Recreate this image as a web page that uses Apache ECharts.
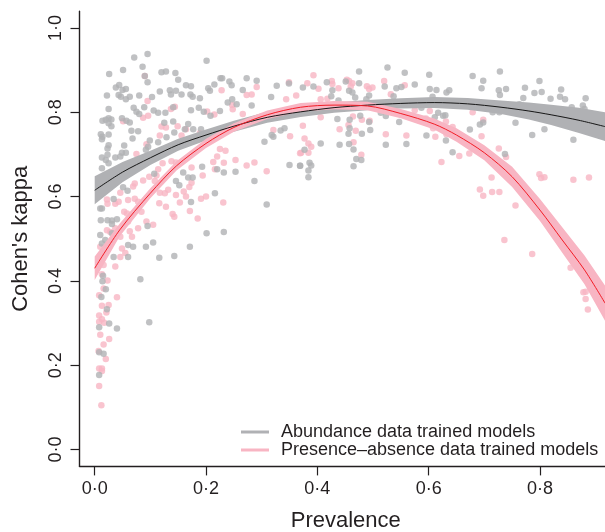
<!DOCTYPE html>
<html>
<head>
<meta charset="utf-8">
<style>html,body{margin:0;padding:0;background:#fff}#c{width:605px;height:532px}</style>
<script src="https://cdn.jsdelivr.net/npm/echarts@6/dist/echarts.min.js"></script>
</head>
<body>
<div id="c"></div>
<script>
const xTicks = [0, 0.2, 0.4, 0.6, 0.8];
const yTicks = [0, 0.2, 0.4, 0.6, 0.8, 1.0];
const nameAbundance = 'Abundance data trained models';
const namePresence = 'Presence–absence data trained models';

const abundancePoints = [
[.095,.938],[.071,.930],[.201,.922],[.026,.891],[.051,.900],[.086,.908],[.090,.886],[.095,.871],[.120,.895],[.128,.897],[.145,.893],[.150,.877],[.164,.864],[.173,.862],[.038,.859],[.044,.865],[.022,.840],[.043,.841],[.050,.853],[.056,.855],[.047,.837],[.056,.831],[.063,.837],[.080,.840],[.103,.836],[.117,.849],[.135,.852],[.146,.851],[.137,.842],[.156,.842],[.172,.842],[.176,.837],[.189,.833],[.204,.857],[.207,.851],[.215,.866],[.226,.881],[.229,.881],[.242,.873],[.246,.864],[.273,.881],[.291,.875],[.266,.853],[.239,.823],[.247,.831],[.255,.819],[.282,.816],[.317,.836],[.327,.863],[.349,.868],
[.025,.808],[.070,.811],[.075,.801],[.080,.796],[.089,.812],[.106,.804],[.114,.799],[.127,.799],[.141,.812],[.173,.805],[.187,.811],[.196,.801],[.208,.792],[.225,.803],[.014,.780],[.020,.782],[.025,.786],[.030,.783],[.025,.774],[.030,.767],[.049,.786],[.057,.780],[.063,.776],[.066,.756],[.078,.755],[.068,.738],[.011,.748],[.014,.742],[.025,.747],[.013,.736],[.025,.722],[.023,.714],[.053,.721],[.099,.733],[.092,.711],[.096,.718],[.125,.775],[.141,.778],[.129,.741],[.143,.752],[.114,.729],[.162,.760],[.168,.772],[.177,.760],[.191,.760],
[.013,.693],[.023,.699],[.037,.693],[.049,.704],[.056,.704],[.046,.695],[.020,.687],[.013,.667],[.025,.679],[.193,.671],[.220,.665],[.232,.657],[.253,.659],[.159,.657],[.176,.645],[.168,.645],[.287,.637],[.146,.637],[.152,.627],[.051,.622],[.059,.614],[.034,.594],[.216,.608],[.173,.587],[.107,.654],[.309,.581],[.305,.730],[.321,.742],[.318,.746],[.334,.757],[.341,.762],[.350,.675],[.369,.673],[.010,.572],[.013,.572],[.011,.544],[.023,.544],[.031,.543],[.040,.546],[.031,.535],[.095,.530],[.010,.509],[.019,.497],[.013,.489],[.031,.513],[.201,.513],[.232,.516],[.060,.485],[.069,.481],[.105,.491],[.092,.481],[.171,.481],[.116,.455],[.143,.459],[.034,.457],[.060,.457],
[.015,.412],[.014,.399],[.020,.380],[.012,.362],[.022,.333],[.082,.404],[.098,.302],[.026,.299],[.040,.287],[.008,.290],[.008,.231],[.016,.227],[.008,.177],
[.526,.906],[.475,.897],[.557,.894],[.601,.889],[.728,.897],[.679,.886],[.698,.875],[.799,.874],[.374,.859],[.393,.861],[.417,.871],[.451,.873],[.475,.869],[.427,.852],[.521,.861],[.542,.857],[.551,.860],[.575,.866],[.602,.855],[.614,.853],[.632,.847],[.637,.852],[.695,.857],[.726,.852],[.728,.841],[.739,.855],[.773,.858],[.790,.846],[.803,.848],[.838,.854],[.425,.838],[.457,.851],[.463,.847],[.468,.835],[.493,.840],[.488,.831],[.537,.838],[.607,.837],[.770,.834],[.819,.832],[.836,.837],[.845,.831],[.882,.833],[.877,.816],[.880,.808],[.857,.812],[.763,.819],[.438,.828],[.587,.811],[.617,.799],[.626,.792],[.630,.793],[.715,.800],[.727,.800],[.611,.788],[.523,.791],[.514,.799],[.547,.777],[.477,.792],[.458,.782],[.436,.784],[.493,.777],[.458,.762],[.495,.758],[.456,.749],[.480,.749],[.756,.775],[.698,.776],[.692,.771],[.674,.759],[.808,.760],[.786,.746],[.860,.735],[.596,.745],[.631,.733],[.406,.726],[.440,.723],[.457,.725],[.523,.723],[.560,.725],[.377,.711],[.465,.712],[.643,.705],[.737,.701],[.470,.689],[.479,.687],[.369,.673],[.389,.674],[.386,.680],[.465,.672],[.384,.662],[.384,.646]
];

const presencePoints = [
[.090,.886],[.095,.827],[.228,.852],[.291,.860],[.349,.871],[.362,.840],[.344,.831],[.273,.841],[.282,.842],[.137,.808],[.144,.813],[.087,.787],[.096,.792],[.202,.802],[.215,.795],[.247,.817],[.248,.807],[.266,.796],[.051,.779],[.149,.767],[.120,.766],[.128,.764],[.164,.760],[.156,.745],[.117,.745],[.189,.750],[.093,.724],[.075,.701],[.321,.758],[.351,.743],[.369,.703],[.225,.713],[.235,.709],[.220,.695],[.213,.682],[.232,.680],[.253,.687],[.287,.681],[.273,.674],[.309,.660],[.216,.665],[.194,.650],[.174,.669],[.138,.684],[.146,.681],[.122,.679],[.114,.665],[.087,.638],[.098,.647],[.108,.637],[.111,.650],[.072,.631],[.069,.624],[.046,.609],[.132,.616],[.126,.608],[.117,.609],[.146,.604],[.160,.612],[.164,.600],[.174,.633],[.170,.623],[.153,.586],[.191,.595],[.200,.600],[.231,.586],[.116,.584],[.128,.576],[.171,.566],[.185,.548],[.140,.559],[.143,.552],[.022,.593],[.023,.583],[.037,.583],[.043,.588],[.060,.592],[.072,.595],[.078,.588],[.084,.564],[.053,.564],[.058,.560],[.093,.541],[.105,.533],[.060,.541],[.078,.525],[.063,.518],[.022,.520],[.028,.516],[.037,.525],[.010,.481],[.046,.505],[.067,.505],[.049,.477],[.055,.466],[.046,.457],[.037,.434],[.016,.438],
[.013,.416],[.023,.401],[.016,.382],[.008,.366],[.040,.361],[.013,.341],[.025,.343],[.021,.325],[.008,.318],[.013,.309],[.008,.303],[.017,.301],[.010,.272],[.026,.262],[.016,.249],[.007,.234],[.020,.215],[.008,.192],[.013,.192],[.013,.186],[.008,.151],[.012,.105],
[.393,.888],[.382,.869],[.426,.874],[.427,.867],[.453,.877],[.457,.874],[.463,.869],[.460,.861],[.489,.862],[.493,.855],[.499,.859],[.520,.874],[.557,.864],[.438,.857],[.402,.856],[.532,.843],[.406,.831],[.418,.832],[.406,.788],[.374,.768],[.377,.738],[.384,.726],[.389,.718],[.384,.704],[.371,.704],[.464,.790],[.480,.782],[.456,.770],[.440,.760],[.469,.756],[.494,.780],[.523,.748],[.560,.745],[.465,.729],[.479,.699],[.575,.805],[.602,.803],[.679,.800],[.698,.782],[.631,.778],[.595,.785],[.608,.762],[.643,.765],[.612,.742],[.632,.748],[.695,.743],[.726,.714],[.655,.696],[.673,.702],[.623,.682],[.739,.694],[.713,.645],[.692,.617],[.698,.602],[.714,.611],[.727,.611],[.756,.579],[.799,.653],[.808,.646],[.802,.644],[.860,.640],[.888,.645],[.736,.497],[.786,.464],[.878,.373],[.882,.374],[.882,.357],[.886,.332],[.855,.431]
];

const abundanceX   = [0, .05, .10, .15, .20, .25, .31, .37, .43, .49, .55, .61, .67, .73, .78, .82, .87, .917];
const abundanceFit = [.615, .658, .692, .723, .746, .767, .788, .801, .811, .817, .821, .823, .820, .812, .803, .794, .781, .766];
const abundanceLow = [.582, .634, .675, .709, .733, .754, .775, .789, .799, .805, .809, .810, .806, .796, .783, .770, .751, .732];
const abundanceUp  = [.648, .682, .709, .737, .759, .780, .801, .813, .823, .829, .833, .836, .834, .828, .823, .818, .811, .800];

const presenceX   = [0, .045, .10, .147, .20, .25, .31, .37, .43, .49, .55, .61, .65, .70, .75, .80, .84, .88, .917];
const presenceFit = [.430, .521, .608, .673, .726, .764, .794, .812, .817, .815, .797, .772, .746, .704, .647, .568, .497, .426, .347];
const presenceLow = [.402, .506, .596, .662, .715, .754, .784, .802, .807, .805, .786, .759, .730, .686, .623, .542, .467, .392, .305];
const presenceUp  = [.458, .536, .620, .684, .737, .774, .804, .822, .827, .825, .808, .785, .762, .722, .671, .594, .527, .460, .389];

const GRAY = '#b0b1b4', PINK = '#f8b5c3', RED = '#f21c26', BLACK = '#161616', INK = '#231f20';
const FONT = '"Liberation Sans", Arial, Helvetica, sans-serif';
const fmt = v => v.toFixed(1).replace('.', '·');

function band(name, xs, low, up, color, z) {
  return {
    type: 'custom', name, z, clip: true, silent: true,
    coordinateSystem: 'cartesian2d',
    itemStyle: { color },
    encode: { x: 0, y: 1 },
    data: [[xs[0], low[0]]],
    renderItem(params, api) {
      const pts = [];
      xs.forEach((x, i) => pts.push(api.coord([x, up[i]])));
      for (let i = xs.length - 1; i >= 0; i--) pts.push(api.coord([xs[i], low[i]]));
      return { type: 'polygon', shape: { points: pts }, style: { fill: color } };
    }
  };
}
function fit(xs, ys, color, z, w) {
  return {
    type: 'line', data: xs.map((x, i) => [x, ys[i]]), z, symbol: 'none', silent: true,
    smooth: 0.3, lineStyle: { color, width: w }, legendHoverLink: false
  };
}
const axisCommon = {
  type: 'value',
  splitLine: { show: false },
  axisLine: { show: true, onZero: false, lineStyle: { color: INK, width: 1.4 } },
  nameLocation: 'middle'
};

const chart = echarts.init(document.getElementById('c'), null, { renderer: 'canvas' });
chart.setOption({
  animation: false,
  backgroundColor: '#fff',
  grid: { left: 79.5, right: 0, top: 11.1, bottom: 65.6, outerBoundsMode: 'none' },
  xAxis: Object.assign({}, axisCommon, {
    min: -0.0273, max: 0.9168,
    name: 'Prevalence', nameGap: 44,
    nameTextStyle: { color: INK, fontFamily: FONT, fontSize: 22, padding: [0, 0, 0, 7] },
    axisTick: { show: true, customValues: xTicks, length: 9, lineStyle: { color: INK, width: 1.2 } },
    axisLabel: { customValues: xTicks, formatter: fmt, color: INK, fontFamily: FONT, fontSize: 18, margin: 14 }
  }),
  yAxis: Object.assign({}, axisCommon, {
    min: -0.04, max: 1.04,
    name: "Cohen's kappa", nameGap: 48,
    nameTextStyle: { color: INK, fontFamily: FONT, fontSize: 22 },
    axisTick: { show: true, customValues: yTicks, length: 9, lineStyle: { color: INK, width: 1.2 } },
    axisLabel: { customValues: yTicks, formatter: fmt, rotate: 90, color: INK, fontFamily: FONT, fontSize: 18, margin: 14 }
  }),
  legend: {
    left: 241, top: 423, orient: 'vertical', itemGap: 0, itemWidth: 28, itemHeight: 3,
    selectedMode: false, padding: 0,
    textStyle: { color: INK, fontFamily: FONT, fontSize: 18, lineHeight: 17.5, padding: [0, 0, 0, 7] },
    data: [{ name: nameAbundance, icon: 'rect' }, { name: namePresence, icon: 'rect' }]
  },
  series: [
    { type: 'scatter', data: presencePoints, symbolSize: 6.5, z: 2, silent: true, itemStyle: { color: PINK } },
    { type: 'scatter', data: abundancePoints, symbolSize: 6.5, z: 3, silent: true, itemStyle: { color: GRAY } },
    band(nameAbundance, abundanceX, abundanceLow, abundanceUp, GRAY, 4),
    band(namePresence, presenceX, presenceLow, presenceUp, PINK, 5),
    fit(abundanceX, abundanceFit, BLACK, 6, 1),
    fit(presenceX, presenceFit, RED, 7, 1)
  ]
});
</script>
</body>
</html>
